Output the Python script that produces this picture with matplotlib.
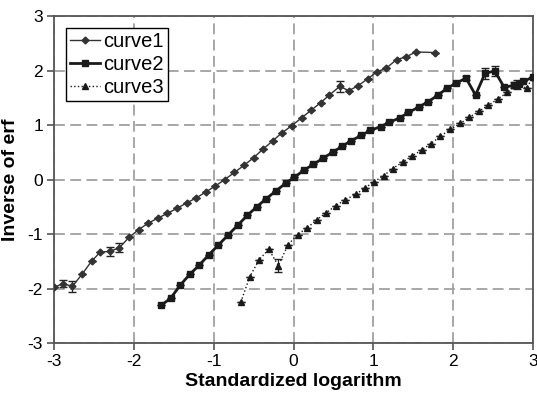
import matplotlib.pyplot as plt
from matplotlib.lines import Line2D
import numpy as np

plt.rcParams['font.family'] = ['Liberation Sans', 'DejaVu Sans']
plt.rcParams['axes.unicode_minus'] = False

# curve1: diamonds, thin line
x1 = [-3.00, -2.89, -2.77, -2.65, -2.53, -2.42, -2.30, -2.18, -2.06, -1.94,
      -1.82, -1.70, -1.58, -1.46, -1.34, -1.22, -1.10, -0.98, -0.86, -0.74,
      -0.62, -0.50, -0.38, -0.26, -0.15, -0.02, 0.10, 0.22, 0.34, 0.45,
      0.58, 0.69, 0.81, 0.93, 1.05, 1.16, 1.29, 1.41, 1.53, 1.77]
y1 = [-1.98, -1.91, -1.96, -1.74, -1.50, -1.33, -1.32, -1.25, -1.06, -0.92,
      -0.80, -0.71, -0.62, -0.53, -0.43, -0.34, -0.23, -0.12, 0.00, 0.13,
      0.26, 0.40, 0.56, 0.71, 0.85, 0.99, 1.13, 1.27, 1.41, 1.55,
      1.71, 1.63, 1.72, 1.85, 1.98, 2.04, 2.20, 2.25, 2.34, 2.33]
e1 = [0, 0.06, 0.10, 0, 0, 0, 0.08, 0.08, 0, 0,
      0, 0, 0, 0, 0, 0, 0, 0, 0, 0,
      0, 0, 0, 0, 0, 0, 0, 0, 0, 0,
      0.10, 0, 0, 0, 0, 0, 0, 0, 0, 0]

# curve2: squares, thick line
x2 = [-1.66, -1.54, -1.42, -1.30, -1.18, -1.06, -0.94, -0.82, -0.70, -0.58,
      -0.46, -0.34, -0.22, -0.10, 0.01, 0.13, 0.25, 0.37, 0.49, 0.61,
      0.72, 0.85, 0.96, 1.09, 1.20, 1.33, 1.44, 1.57, 1.69, 1.81,
      1.92, 2.04, 2.16, 2.28, 2.40, 2.52, 2.64, 2.76, 2.82, 2.88, 3.00]
y2 = [-2.31, -2.18, -1.94, -1.74, -1.57, -1.38, -1.20, -1.02, -0.84, -0.66,
      -0.50, -0.35, -0.21, -0.07, 0.04, 0.17, 0.28, 0.39, 0.50, 0.61,
      0.71, 0.81, 0.90, 0.97, 1.05, 1.13, 1.23, 1.33, 1.43, 1.55,
      1.67, 1.77, 1.86, 1.55, 1.95, 1.99, 1.69, 1.73, 1.75, 1.80, 1.88]
e2 = [0] * 32 + [0.04, 0, 0.10, 0.10, 0, 0.05, 0, 0, 0]

# curve3: triangles, dotted line
x3 = [-0.66, -0.55, -0.43, -0.31, -0.19, -0.07, 0.05, 0.17, 0.29, 0.41,
      0.53, 0.65, 0.78, 0.89, 1.01, 1.13, 1.24, 1.37, 1.48, 1.61,
      1.72, 1.84, 1.96, 2.09, 2.20, 2.32, 2.44, 2.56, 2.68, 2.80,
      2.92, 3.00]
y3 = [-2.25, -1.79, -1.47, -1.28, -1.58, -1.20, -1.01, -0.89, -0.74, -0.61,
      -0.48, -0.37, -0.27, -0.16, -0.04, 0.07, 0.20, 0.32, 0.43, 0.54,
      0.66, 0.79, 0.92, 1.03, 1.14, 1.25, 1.36, 1.48, 1.60, 1.74,
      1.68, 1.88]
e3 = [0, 0, 0, 0, 0.12, 0, 0, 0, 0, 0,
      0, 0, 0, 0, 0, 0, 0, 0, 0, 0,
      0, 0, 0, 0, 0, 0, 0, 0, 0, 0.08,
      0, 0]

styles = [
    dict(color='#333333', lw=1.0, ls='-', marker='D', ms=3.5),
    dict(color='#1a1a1a', lw=2.0, ls='-', marker='s', ms=5),
    dict(color='#1a1a1a', lw=1.0, ls=':', marker='^', ms=4.5),
]
labels = ['curve1', 'curve2', 'curve3']

fig = plt.figure(figsize=(5.37, 4.01), dpi=100)
ax = fig.add_axes([0.1006, 0.1446, 0.892, 0.8155])

for (x, y, e), st in zip([(x1, y1, e1), (x2, y2, e2), (x3, y3, e3)], styles):
    ax.errorbar(x, y, yerr=e, ecolor='#222222', elinewidth=0.9, capsize=3,
                zorder=3, **st)

ax.set_xlim(-3, 3)
ax.set_ylim(-3, 3)
ax.set_xticks(np.arange(-3, 4, 1))
ax.set_yticks(np.arange(-3, 4, 1))
ax.grid(True, color='#a0a0a0', ls=(0, (6, 3)), lw=1.3)
ax.set_axisbelow(True)
for s in ax.spines.values():
    s.set_color('#555555')
    s.set_linewidth(1.3)
ax.tick_params(direction='out', length=5, width=1.2, color='#555555',
               labelsize=12.5, pad=3)

ax.set_xlabel('Standardized logarithm', fontsize=14, fontweight='bold', labelpad=3)
ax.set_ylabel('Inverse of erf', fontsize=14, fontweight='bold', labelpad=6)

handles = [Line2D([], [], **st) for st in styles]
leg = ax.legend(handles, labels, loc='upper left', fontsize=14.5, frameon=True,
                fancybox=False, edgecolor='black', framealpha=1, borderpad=0.2,
                handlelength=1.5, handletextpad=0.15, labelspacing=0.2,
                borderaxespad=0.6)
leg.get_frame().set_linewidth(1.0)

fig.savefig('out.png', dpi=100)
